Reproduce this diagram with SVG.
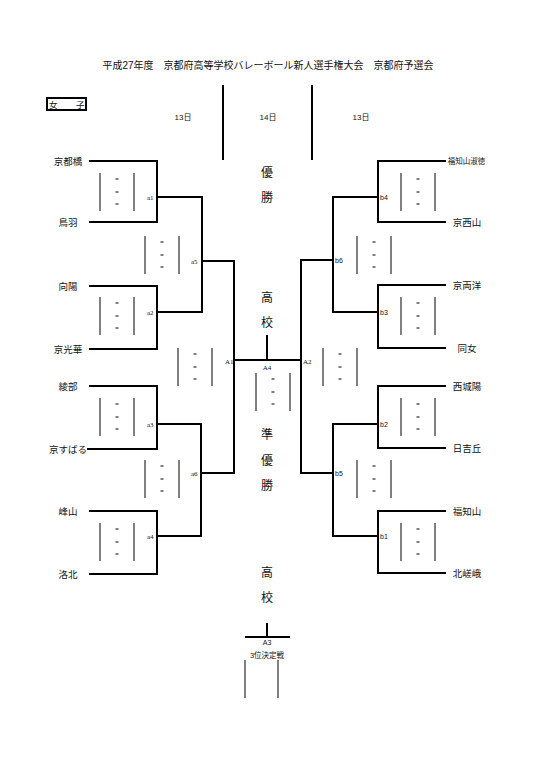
<svg xmlns="http://www.w3.org/2000/svg" xmlns:xlink="http://www.w3.org/1999/xlink" width="535" height="757" viewBox="0 0 535 757">
<style>
.t{font-family:"Liberation Sans","Noto Sans CJK JP",sans-serif;fill:#111}
.team{font-size:9.5px;text-anchor:middle}
.lbl{font-family:"Liberation Serif","Noto Sans CJK JP",serif;font-size:7px;fill:#111}
.lbs{font-family:"Liberation Sans",sans-serif;font-size:7px;fill:#111}
.big{font-size:12px;text-anchor:middle}
.ln{stroke:#000;stroke-width:2;fill:none}
.sc{stroke:#000;stroke-width:1;fill:none}
</style>
<defs>
<g id="score">
<line class="sc" x1="0" y1="0" x2="0" y2="38"/>
<line class="sc" x1="34" y1="0" x2="34" y2="38"/>
<line class="sc" x1="15.5" y1="6" x2="18.5" y2="6"/>
<line class="sc" x1="15.5" y1="19" x2="18.5" y2="19"/>
<line class="sc" x1="15.5" y1="31" x2="18.5" y2="31"/>
</g>
</defs>
<rect width="535" height="757" fill="#fff"/>

<g id="header">
<text class="t" x="268" y="69" font-size="10" text-anchor="middle">平成27年度　京都府高等学校バレーボール新人選手権大会　京都府予選会</text>
<rect x="47" y="98" width="39" height="12" fill="none" stroke="#000" stroke-width="2"/>
<text class="t" x="49" y="107.5" font-size="8.5">女</text>
<text class="t" x="76" y="107.5" font-size="8.5">子</text>
<line x1="223" y1="85" x2="223" y2="160" stroke="#000" stroke-width="2"/>
<line x1="312" y1="85" x2="312" y2="160" stroke="#000" stroke-width="2"/>
<text class="t" x="183" y="120" font-size="8" text-anchor="middle">13日</text>
<text class="t" x="268" y="120" font-size="8" text-anchor="middle">14日</text>
<text class="t" x="361" y="120" font-size="8" text-anchor="middle">13日</text>
</g>

<g id="teams-left">
<g id="t-kyototachibana"><text class="t team" x="68" y="164.5">京都橋</text></g>
<g id="t-toba"><text class="t team" x="68" y="225.5">鳥羽</text></g>
<g id="t-koyo"><text class="t team" x="68" y="289.5">向陽</text></g>
<g id="t-kyokoka"><text class="t team" x="68" y="352.5">京光華</text></g>
<g id="t-ayabe"><text class="t team" x="68" y="389.5">綾部</text></g>
<g id="t-kyosubaru"><text class="t team" x="68" y="452.5">京すばる</text></g>
<g id="t-mineyama"><text class="t team" x="68" y="514.5">峰山</text></g>
<g id="t-rakuhoku"><text class="t team" x="68" y="577.5">洛北</text></g>
</g>

<g id="teams-right">
<g id="t-fukuchiyamashukutoku"><text class="t" x="466.5" y="163.5" font-size="7.5" text-anchor="middle">福知山淑徳</text></g>
<g id="t-kyonishiyama"><text class="t team" x="467" y="225.5">京西山</text></g>
<g id="t-kyoryoyo"><text class="t team" x="467" y="288.5">京両洋</text></g>
<g id="t-dojo"><text class="t team" x="467" y="351.5">同女</text></g>
<g id="t-nishijoyo"><text class="t team" x="467" y="389.5">西城陽</text></g>
<g id="t-hiyoshigaoka"><text class="t team" x="467" y="451.5">日吉丘</text></g>
<g id="t-fukuchiyama"><text class="t team" x="467" y="514.5">福知山</text></g>
<g id="t-kitasaga"><text class="t team" x="467" y="576.5">北嵯峨</text></g>
</g>

<g id="connectors">
<!-- left -->
<polyline class="ln" points="89,161 157,161 157,222 89,222"/>
<polyline class="ln" points="89,286 157,286 157,349 89,349"/>
<polyline class="ln" points="89,386 157,386 157,449 87,449"/>
<polyline class="ln" points="89,511 157,511 157,574 89,574"/>
<polyline class="ln" points="157,197 202,197 202,312 157,312"/>
<polyline class="ln" points="157,424 201,424 201,536 157,536"/>
<polyline class="ln" points="202,261 234,261 234,473 201,473"/>
<!-- right -->
<polyline class="ln" points="446,161 378,161 378,222 446,222"/>
<polyline class="ln" points="446,285 378,285 378,348 446,348"/>
<polyline class="ln" points="446,386 378,386 378,448 446,448"/>
<polyline class="ln" points="446,511 378,511 378,573 446,573"/>
<polyline class="ln" points="378,197 333,197 333,312 378,312"/>
<polyline class="ln" points="378,424 333,424 333,536 378,536"/>
<polyline class="ln" points="333,260 301,260 301,473 333,473"/>
<!-- final -->
<line class="ln" x1="234" y1="360" x2="301" y2="360"/>
<line class="ln" x1="267" y1="335" x2="267" y2="360"/>
<!-- third place -->
<line class="ln" x1="267" y1="623" x2="267" y2="637"/>
<line class="ln" x1="245" y1="637" x2="290" y2="637"/>
</g>

<g id="scores">
<use xlink:href="#score" x="100" y="173"/>
<use xlink:href="#score" x="100" y="297"/>
<use xlink:href="#score" x="100" y="398"/>
<use xlink:href="#score" x="100" y="523"/>
<use xlink:href="#score" x="145" y="236"/>
<use xlink:href="#score" x="145" y="460"/>
<use xlink:href="#score" x="178" y="348"/>
<use xlink:href="#score" x="256" y="373"/>
<use xlink:href="#score" x="323" y="348"/>
<use xlink:href="#score" x="357" y="236"/>
<use xlink:href="#score" x="357" y="460"/>
<use xlink:href="#score" x="401" y="173"/>
<use xlink:href="#score" x="401" y="297"/>
<use xlink:href="#score" x="401" y="398"/>
<use xlink:href="#score" x="401" y="523"/>
<line class="sc" x1="245" y1="660" x2="245" y2="698"/>
<line class="sc" x1="278" y1="660" x2="278" y2="698"/>
</g>

<g id="match-labels">
<g id="m-a1"><text class="lbl" x="147" y="200">a1</text></g>
<g id="m-a2"><text class="lbl" x="147" y="315">a2</text></g>
<g id="m-a3"><text class="lbl" x="147" y="427">a3</text></g>
<g id="m-a4"><text class="lbl" x="147" y="539">a4</text></g>
<g id="m-a5"><text class="lbl" x="191" y="264">a5</text></g>
<g id="m-a6"><text class="lbl" x="191" y="476">a6</text></g>
<g id="m-b4"><text class="lbs" x="380" y="200">b4</text></g>
<g id="m-b3"><text class="lbs" x="380" y="315">b3</text></g>
<g id="m-b2"><text class="lbs" x="380" y="427">b2</text></g>
<g id="m-b1"><text class="lbs" x="380" y="539">b1</text></g>
<g id="m-b6"><text class="lbs" x="335" y="263">b6</text></g>
<g id="m-b5"><text class="lbs" x="335" y="476">b5</text></g>
<g id="m-A1"><text class="lbl" x="225" y="363.5">A1</text></g>
<g id="m-A2"><text class="lbl" x="303" y="363.5">A2</text></g>
<g id="m-A4"><text class="lbl" x="267" y="370" text-anchor="middle">A4</text></g>
<g id="m-A3"><text class="lbs" x="267" y="645" text-anchor="middle">A3</text>
<text class="t" x="267" y="658" font-size="7.5" text-anchor="middle">3位決定戦</text></g>
</g>

<g id="center-text">
<text class="t big" x="267" y="177">優</text>
<text class="t big" x="267" y="202">勝</text>
<text class="t big" x="267" y="302">高</text>
<text class="t big" x="267" y="327">校</text>
<text class="t big" x="267" y="439">準</text>
<text class="t big" x="267" y="465">優</text>
<text class="t big" x="267" y="490">勝</text>
<text class="t big" x="267" y="577">高</text>
<text class="t big" x="267" y="602">校</text>
</g>
</svg>
